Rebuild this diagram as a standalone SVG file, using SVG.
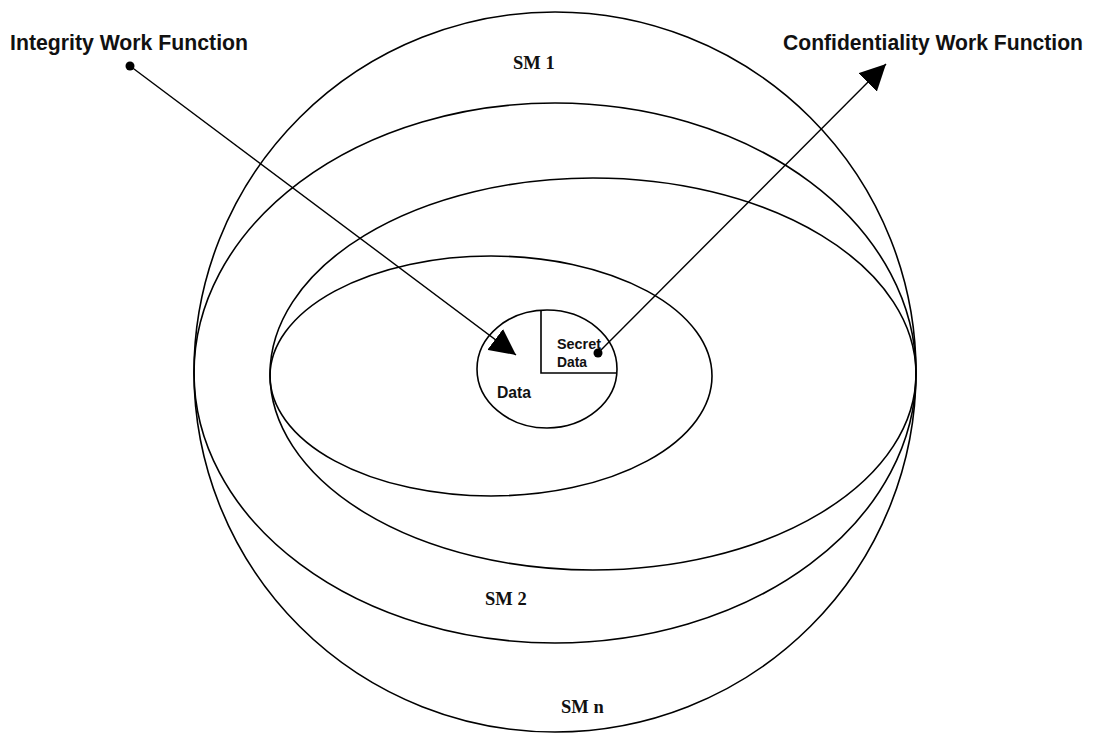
<svg xmlns="http://www.w3.org/2000/svg" width="1094" height="733" viewBox="0 0 1094 733">
  <style>
    .ring { fill: none; stroke: #000; stroke-width: 1.6; }
    .wire { fill: none; stroke: #000; stroke-width: 1.4; }
    .lbl { font-family: "Liberation Sans Narrow", "Liberation Sans", Arial, sans-serif; font-weight: bold; fill: #111; }
    .sm { font-family: "Liberation Serif", "Times New Roman", serif; font-weight: bold; font-size: 18.5px; fill: #111; }
  </style>
  <defs>
    <marker id="tri" viewBox="0 0 10 10" refX="10" refY="5" markerWidth="26" markerHeight="26" markerUnits="userSpaceOnUse" orient="auto">
      <path d="M0,0 L10,5 L0,10 z" fill="#000"/>
    </marker>
  </defs>
  <rect width="1094" height="733" fill="#fff"/>

  <g id="sm-n">
    <ellipse class="ring" cx="555" cy="372" rx="361" ry="360"/>
    <text class="sm" x="561" y="713">SM n</text>
  </g>
  <g id="sm-2">
    <ellipse class="ring" cx="555" cy="373" rx="361" ry="270"/>
    <text class="sm" x="485" y="605">SM 2</text>
  </g>
  <g id="sm-1">
    <ellipse class="ring" cx="593" cy="374" rx="323" ry="196"/>
    <text class="sm" x="513" y="69">SM 1</text>
  </g>
  <g id="inner-ring">
    <ellipse class="ring" cx="491" cy="376" rx="221" ry="120"/>
  </g>
  <g id="data">
    <ellipse class="ring" cx="547" cy="369" rx="70" ry="59"/>
    <path class="ring" d="M541,310 L541,373 L616,373"/>
    <text class="lbl" x="497" y="398" font-size="17" textLength="34" lengthAdjust="spacingAndGlyphs">Data</text>
  </g>
  <g id="secret-data">
    <text class="lbl" x="557" y="349" font-size="15" textLength="44" lengthAdjust="spacingAndGlyphs">Secret</text>
    <text class="lbl" x="557" y="367" font-size="15" textLength="30" lengthAdjust="spacingAndGlyphs">Data</text>
  </g>
  <g id="integrity">
    <text class="lbl" x="10" y="50" font-size="22" textLength="238" lengthAdjust="spacingAndGlyphs">Integrity Work Function</text>
  </g>
  <g id="confidentiality">
    <text class="lbl" x="783" y="50" font-size="22" textLength="300" lengthAdjust="spacingAndGlyphs">Confidentiality Work Function</text>
  </g>

  <g id="connectors">
    <circle cx="130" cy="66" r="4.5" fill="#000"/>
    <line class="wire" x1="130" y1="66" x2="516" y2="355" marker-end="url(#tri)"/>
    <circle cx="598" cy="353" r="4.5" fill="#000"/>
    <line class="wire" x1="598" y1="353" x2="886" y2="64" marker-end="url(#tri)"/>
  </g>
</svg>
